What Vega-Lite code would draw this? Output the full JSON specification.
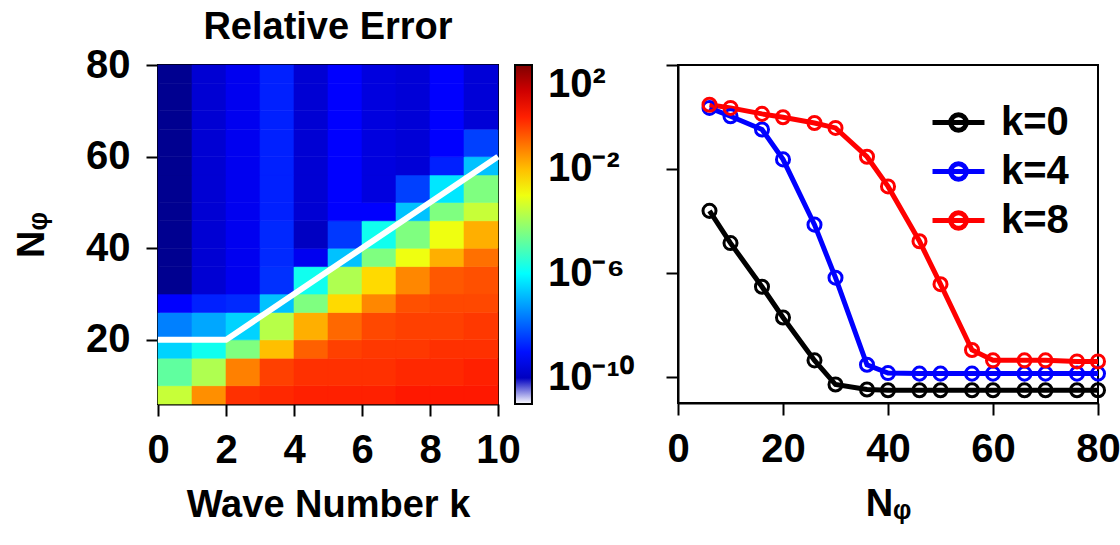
{
  "$schema": "https://vega.github.io/schema/vega-lite/v6.json",
  "background": "white",
  "padding": {"left": 12, "top": 8, "right": 5, "bottom": 0},
  "bounds": "flush",
  "spacing": 180,
  "config": {
    "font": "Liberation Sans",
    "view": {"stroke": "black", "strokeWidth": 2},
    "axis": {
      "labelFont": "Liberation Sans",
      "labelFontSize": 40, "labelFontWeight": "bold", "labelColor": "black",
      "titleFont": "Liberation Sans",
      "titleFontSize": 38, "titleFontWeight": "bold", "titleColor": "black",
      "domainColor": "black", "domainWidth": 2, "tickColor": "black", "tickWidth": 2, "tickSize": 12,
      "grid": false, "labelPadding": 14, "titlePadding": 16, "labelFlush": false, "labelOverlap": false
    },
    "legend": {
      "labelFont": "Liberation Sans",
      "labelFontSize": 40, "labelFontWeight": "bold", "labelColor": "black"
    },
    "title": {
      "font": "Liberation Sans",
      "fontSize": 38, "fontWeight": "bold", "color": "black"
    }
  },
  "resolve": {"scale": {"color": "independent"}, "legend": {"color": "independent"}},
  "datasets": {
    "heat": [
      {"k":0,"k_end":1,"N":6,"N_end":10,"log10_err":-3.5},{"k":1,"k_end":2,"N":6,"N_end":10,"log10_err":-1.4},{"k":2,"k_end":3,"N":6,"N_end":10,"log10_err":-0.2},{"k":3,"k_end":4,"N":6,"N_end":10,"log10_err":-0.1},{"k":4,"k_end":5,"N":6,"N_end":10,"log10_err":0.0},{"k":5,"k_end":6,"N":6,"N_end":10,"log10_err":0.0},{"k":6,"k_end":7,"N":6,"N_end":10,"log10_err":0.0},{"k":7,"k_end":8,"N":6,"N_end":10,"log10_err":0.1},{"k":8,"k_end":9,"N":6,"N_end":10,"log10_err":0.1},{"k":9,"k_end":10,"N":6,"N_end":10,"log10_err":0.1},
      {"k":0,"k_end":1,"N":10,"N_end":16,"log10_err":-4.8},{"k":1,"k_end":2,"N":10,"N_end":16,"log10_err":-3.8},{"k":2,"k_end":3,"N":10,"N_end":16,"log10_err":-1.2},{"k":3,"k_end":4,"N":10,"N_end":16,"log10_err":-0.4},{"k":4,"k_end":5,"N":10,"N_end":16,"log10_err":-0.2},{"k":5,"k_end":6,"N":10,"N_end":16,"log10_err":-0.2},{"k":6,"k_end":7,"N":10,"N_end":16,"log10_err":-0.2},{"k":7,"k_end":8,"N":10,"N_end":16,"log10_err":-0.1},{"k":8,"k_end":9,"N":10,"N_end":16,"log10_err":-0.1},{"k":9,"k_end":10,"N":10,"N_end":16,"log10_err":0.0},
      {"k":0,"k_end":1,"N":16,"N_end":20,"log10_err":-6.55},{"k":1,"k_end":2,"N":16,"N_end":20,"log10_err":-5.8},{"k":2,"k_end":3,"N":16,"N_end":20,"log10_err":-4.4},{"k":3,"k_end":4,"N":16,"N_end":20,"log10_err":-2.0},{"k":4,"k_end":5,"N":16,"N_end":20,"log10_err":-0.8},{"k":5,"k_end":6,"N":16,"N_end":20,"log10_err":-0.4},{"k":6,"k_end":7,"N":16,"N_end":20,"log10_err":-0.3},{"k":7,"k_end":8,"N":16,"N_end":20,"log10_err":-0.3},{"k":8,"k_end":9,"N":16,"N_end":20,"log10_err":-0.2},{"k":9,"k_end":10,"N":16,"N_end":20,"log10_err":-0.2},
      {"k":0,"k_end":1,"N":20,"N_end":26,"log10_err":-7.6},{"k":1,"k_end":2,"N":20,"N_end":26,"log10_err":-7.1},{"k":2,"k_end":3,"N":20,"N_end":26,"log10_err":-6.55},{"k":3,"k_end":4,"N":20,"N_end":26,"log10_err":-3.7},{"k":4,"k_end":5,"N":20,"N_end":26,"log10_err":-1.8},{"k":5,"k_end":6,"N":20,"N_end":26,"log10_err":-0.9},{"k":6,"k_end":7,"N":20,"N_end":26,"log10_err":-0.5},{"k":7,"k_end":8,"N":20,"N_end":26,"log10_err":-0.4},{"k":8,"k_end":9,"N":20,"N_end":26,"log10_err":-0.4},{"k":9,"k_end":10,"N":20,"N_end":26,"log10_err":-0.3},
      {"k":0,"k_end":1,"N":26,"N_end":30,"log10_err":-9.2},{"k":1,"k_end":2,"N":26,"N_end":30,"log10_err":-8.8},{"k":2,"k_end":3,"N":26,"N_end":30,"log10_err":-8.69},{"k":3,"k_end":4,"N":26,"N_end":30,"log10_err":-6.77},{"k":4,"k_end":5,"N":26,"N_end":30,"log10_err":-4.4},{"k":5,"k_end":6,"N":26,"N_end":30,"log10_err":-2.33},{"k":6,"k_end":7,"N":26,"N_end":30,"log10_err":-1.3},{"k":7,"k_end":8,"N":26,"N_end":30,"log10_err":-0.6},{"k":8,"k_end":9,"N":26,"N_end":30,"log10_err":-0.5},{"k":9,"k_end":10,"N":26,"N_end":30,"log10_err":-0.5},
      {"k":0,"k_end":1,"N":30,"N_end":36,"log10_err":-10.6},{"k":1,"k_end":2,"N":30,"N_end":36,"log10_err":-9.75},{"k":2,"k_end":3,"N":30,"N_end":36,"log10_err":-9.39},{"k":3,"k_end":4,"N":30,"N_end":36,"log10_err":-8.6},{"k":4,"k_end":5,"N":30,"N_end":36,"log10_err":-5.8},{"k":5,"k_end":6,"N":30,"N_end":36,"log10_err":-3.8},{"k":6,"k_end":7,"N":30,"N_end":36,"log10_err":-2.33},{"k":7,"k_end":8,"N":30,"N_end":36,"log10_err":-1.3},{"k":8,"k_end":9,"N":30,"N_end":36,"log10_err":-0.7},{"k":9,"k_end":10,"N":30,"N_end":36,"log10_err":-0.6},
      {"k":0,"k_end":1,"N":36,"N_end":40,"log10_err":-10.6},{"k":1,"k_end":2,"N":36,"N_end":40,"log10_err":-9.75},{"k":2,"k_end":3,"N":36,"N_end":40,"log10_err":-9.39},{"k":3,"k_end":4,"N":36,"N_end":40,"log10_err":-8.69},{"k":4,"k_end":5,"N":36,"N_end":40,"log10_err":-9.39},{"k":5,"k_end":6,"N":36,"N_end":40,"log10_err":-6.77},{"k":6,"k_end":7,"N":36,"N_end":40,"log10_err":-4.4},{"k":7,"k_end":8,"N":36,"N_end":40,"log10_err":-3.0},{"k":8,"k_end":9,"N":36,"N_end":40,"log10_err":-1.8},{"k":9,"k_end":10,"N":36,"N_end":40,"log10_err":-1.0},
      {"k":0,"k_end":1,"N":40,"N_end":46,"log10_err":-10.6},{"k":1,"k_end":2,"N":40,"N_end":46,"log10_err":-9.75},{"k":2,"k_end":3,"N":40,"N_end":46,"log10_err":-9.39},{"k":3,"k_end":4,"N":40,"N_end":46,"log10_err":-8.7},{"k":4,"k_end":5,"N":40,"N_end":46,"log10_err":-9.97},{"k":5,"k_end":6,"N":40,"N_end":46,"log10_err":-8.5},{"k":6,"k_end":7,"N":40,"N_end":46,"log10_err":-5.8},{"k":7,"k_end":8,"N":40,"N_end":46,"log10_err":-4.4},{"k":8,"k_end":9,"N":40,"N_end":46,"log10_err":-3.0},{"k":9,"k_end":10,"N":40,"N_end":46,"log10_err":-1.8},
      {"k":0,"k_end":1,"N":46,"N_end":50,"log10_err":-10.6},{"k":1,"k_end":2,"N":46,"N_end":50,"log10_err":-9.75},{"k":2,"k_end":3,"N":46,"N_end":50,"log10_err":-9.39},{"k":3,"k_end":4,"N":46,"N_end":50,"log10_err":-8.8},{"k":4,"k_end":5,"N":46,"N_end":50,"log10_err":-9.75},{"k":5,"k_end":6,"N":46,"N_end":50,"log10_err":-9.2},{"k":6,"k_end":7,"N":46,"N_end":50,"log10_err":-9.2},{"k":7,"k_end":8,"N":46,"N_end":50,"log10_err":-6.77},{"k":8,"k_end":9,"N":46,"N_end":50,"log10_err":-4.4},{"k":9,"k_end":10,"N":46,"N_end":50,"log10_err":-3.5},
      {"k":0,"k_end":1,"N":50,"N_end":56,"log10_err":-10.6},{"k":1,"k_end":2,"N":50,"N_end":56,"log10_err":-9.75},{"k":2,"k_end":3,"N":50,"N_end":56,"log10_err":-9.39},{"k":3,"k_end":4,"N":50,"N_end":56,"log10_err":-8.8},{"k":4,"k_end":5,"N":50,"N_end":56,"log10_err":-9.75},{"k":5,"k_end":6,"N":50,"N_end":56,"log10_err":-9.2},{"k":6,"k_end":7,"N":50,"N_end":56,"log10_err":-9.6},{"k":7,"k_end":8,"N":50,"N_end":56,"log10_err":-8.4},{"k":8,"k_end":9,"N":50,"N_end":56,"log10_err":-6.3},{"k":9,"k_end":10,"N":50,"N_end":56,"log10_err":-4.4},
      {"k":0,"k_end":1,"N":56,"N_end":60,"log10_err":-10.6},{"k":1,"k_end":2,"N":56,"N_end":60,"log10_err":-9.75},{"k":2,"k_end":3,"N":56,"N_end":60,"log10_err":-9.39},{"k":3,"k_end":4,"N":56,"N_end":60,"log10_err":-8.8},{"k":4,"k_end":5,"N":56,"N_end":60,"log10_err":-9.75},{"k":5,"k_end":6,"N":56,"N_end":60,"log10_err":-9.2},{"k":6,"k_end":7,"N":56,"N_end":60,"log10_err":-9.6},{"k":7,"k_end":8,"N":56,"N_end":60,"log10_err":-9.7},{"k":8,"k_end":9,"N":56,"N_end":60,"log10_err":-8.8},{"k":9,"k_end":10,"N":56,"N_end":60,"log10_err":-6.77},
      {"k":0,"k_end":1,"N":60,"N_end":66,"log10_err":-10.6},{"k":1,"k_end":2,"N":60,"N_end":66,"log10_err":-9.75},{"k":2,"k_end":3,"N":60,"N_end":66,"log10_err":-9.39},{"k":3,"k_end":4,"N":60,"N_end":66,"log10_err":-8.8},{"k":4,"k_end":5,"N":60,"N_end":66,"log10_err":-9.75},{"k":5,"k_end":6,"N":60,"N_end":66,"log10_err":-9.2},{"k":6,"k_end":7,"N":60,"N_end":66,"log10_err":-9.6},{"k":7,"k_end":8,"N":60,"N_end":66,"log10_err":-9.7},{"k":8,"k_end":9,"N":60,"N_end":66,"log10_err":-9.2},{"k":9,"k_end":10,"N":60,"N_end":66,"log10_err":-8.4},
      {"k":0,"k_end":1,"N":66,"N_end":70,"log10_err":-10.6},{"k":1,"k_end":2,"N":66,"N_end":70,"log10_err":-9.75},{"k":2,"k_end":3,"N":66,"N_end":70,"log10_err":-9.39},{"k":3,"k_end":4,"N":66,"N_end":70,"log10_err":-8.8},{"k":4,"k_end":5,"N":66,"N_end":70,"log10_err":-9.75},{"k":5,"k_end":6,"N":66,"N_end":70,"log10_err":-9.2},{"k":6,"k_end":7,"N":66,"N_end":70,"log10_err":-9.6},{"k":7,"k_end":8,"N":66,"N_end":70,"log10_err":-9.7},{"k":8,"k_end":9,"N":66,"N_end":70,"log10_err":-9.2},{"k":9,"k_end":10,"N":66,"N_end":70,"log10_err":-9.7},
      {"k":0,"k_end":1,"N":70,"N_end":76,"log10_err":-10.6},{"k":1,"k_end":2,"N":70,"N_end":76,"log10_err":-9.75},{"k":2,"k_end":3,"N":70,"N_end":76,"log10_err":-9.39},{"k":3,"k_end":4,"N":70,"N_end":76,"log10_err":-8.8},{"k":4,"k_end":5,"N":70,"N_end":76,"log10_err":-9.75},{"k":5,"k_end":6,"N":70,"N_end":76,"log10_err":-9.2},{"k":6,"k_end":7,"N":70,"N_end":76,"log10_err":-9.6},{"k":7,"k_end":8,"N":70,"N_end":76,"log10_err":-9.7},{"k":8,"k_end":9,"N":70,"N_end":76,"log10_err":-9.2},{"k":9,"k_end":10,"N":70,"N_end":76,"log10_err":-9.7},
      {"k":0,"k_end":1,"N":76,"N_end":80,"log10_err":-10.6},{"k":1,"k_end":2,"N":76,"N_end":80,"log10_err":-9.75},{"k":2,"k_end":3,"N":76,"N_end":80,"log10_err":-9.39},{"k":3,"k_end":4,"N":76,"N_end":80,"log10_err":-8.8},{"k":4,"k_end":5,"N":76,"N_end":80,"log10_err":-9.75},{"k":5,"k_end":6,"N":76,"N_end":80,"log10_err":-9.2},{"k":6,"k_end":7,"N":76,"N_end":80,"log10_err":-9.6},{"k":7,"k_end":8,"N":76,"N_end":80,"log10_err":-9.7},{"k":8,"k_end":9,"N":76,"N_end":80,"log10_err":-9.2},{"k":9,"k_end":10,"N":76,"N_end":80,"log10_err":-9.7}
    ],
    "boundary": [
      {"k": 0, "N": 20}, {"k": 2, "N": 20}, {"k": 10, "N": 60}
    ],
    "lines": [
      {"series":"k=0","N":6,"log10_err":-3.61},{"series":"k=0","N":10,"log10_err":-4.85},{"series":"k=0","N":16,"log10_err":-6.53},{"series":"k=0","N":20,"log10_err":-7.71},{"series":"k=0","N":26,"log10_err":-9.36},{"series":"k=0","N":30,"log10_err":-10.29},{"series":"k=0","N":36,"log10_err":-10.48},{"series":"k=0","N":40,"log10_err":-10.51},{"series":"k=0","N":46,"log10_err":-10.51},{"series":"k=0","N":50,"log10_err":-10.51},{"series":"k=0","N":56,"log10_err":-10.51},{"series":"k=0","N":60,"log10_err":-10.51},{"series":"k=0","N":66,"log10_err":-10.51},{"series":"k=0","N":70,"log10_err":-10.51},{"series":"k=0","N":76,"log10_err":-10.51},{"series":"k=0","N":80,"log10_err":-10.51},
      {"series":"k=4","N":6,"log10_err":0.35},{"series":"k=4","N":10,"log10_err":0.03},{"series":"k=4","N":16,"log10_err":-0.48},{"series":"k=4","N":20,"log10_err":-1.63},{"series":"k=4","N":26,"log10_err":-4.14},{"series":"k=4","N":30,"log10_err":-6.18},{"series":"k=4","N":36,"log10_err":-9.53},{"series":"k=4","N":40,"log10_err":-9.85},{"series":"k=4","N":46,"log10_err":-9.87},{"series":"k=4","N":50,"log10_err":-9.87},{"series":"k=4","N":56,"log10_err":-9.87},{"series":"k=4","N":60,"log10_err":-9.87},{"series":"k=4","N":66,"log10_err":-9.87},{"series":"k=4","N":70,"log10_err":-9.87},{"series":"k=4","N":76,"log10_err":-9.87},{"series":"k=4","N":80,"log10_err":-9.87},
      {"series":"k=8","N":6,"log10_err":0.47},{"series":"k=8","N":10,"log10_err":0.35},{"series":"k=8","N":16,"log10_err":0.12},{"series":"k=8","N":20,"log10_err":-0.01},{"series":"k=8","N":26,"log10_err":-0.23},{"series":"k=8","N":30,"log10_err":-0.42},{"series":"k=8","N":36,"log10_err":-1.53},{"series":"k=8","N":40,"log10_err":-2.67},{"series":"k=8","N":46,"log10_err":-4.78},{"series":"k=8","N":50,"log10_err":-6.43},{"series":"k=8","N":56,"log10_err":-8.96},{"series":"k=8","N":60,"log10_err":-9.36},{"series":"k=8","N":66,"log10_err":-9.36},{"series":"k=8","N":70,"log10_err":-9.36},{"series":"k=8","N":76,"log10_err":-9.4},{"series":"k=8","N":80,"log10_err":-9.4}
    ]
  },
  "hconcat": [
    {
      "width": 340,
      "height": 339,
      "title": {"text": "Relative Error", "offset": -2, "anchor": "middle"},
      "layer": [
        {
          "data": {"name": "heat"},
          "mark": {"type": "rect", "strokeWidth": 0.6},
          "encoding": {
            "x": {"field": "k", "type": "quantitative", "scale": {"domain": [0, 10], "nice": false, "zero": false},
                  "axis": {"values": [0, 2, 4, 6, 8, 10], "title": "Wave Number k"}},
            "x2": {"field": "k_end"},
            "y": {"field": "N", "type": "quantitative", "scale": {"domain": [6, 80], "nice": false, "zero": false},
                  "axis": {"values": [20, 40, 60, 80], "title": "Nᵩ", "labelPadding": 16, "titlePadding": 34}},
            "y2": {"field": "N_end"},
            "color": {
              "field": "log10_err", "type": "quantitative",
              "scale": {
                "type": "linear",
                "domain": [-11, -10.81, -10.8, -9.2, -6.0, -2.8, 0.4, 2.0],
                "range": ["#ffffff", "#ffffff", "#000080", "#0000ff", "#00ffff", "#ffff00", "#ff0000", "#800000"],
                "interpolate": "rgb"
              },
              "legend": {
                "orient": "right", "offset": 17, "title": null, "direction": "vertical",
                "gradientLength": 339, "gradientThickness": 17,
                "gradientStrokeColor": "black", "gradientStrokeWidth": 2,
                "values": [-10, -6, -2, 2],
                "labelExpr": "datum.value == 2 ? '10²' : datum.value == -2 ? '10⁻²' : datum.value == -6 ? '10⁻⁶' : '10⁻¹⁰'",
                "labelOverlap": false, "labelOffset": 16, "labelBaseline": "middle"
              }
            },
            "stroke": {
              "field": "log10_err", "type": "quantitative",
              "scale": {
                "type": "linear",
                "domain": [-11, -10.81, -10.8, -9.2, -6.0, -2.8, 0.4, 2.0],
                "range": ["#ffffff", "#ffffff", "#000080", "#0000ff", "#00ffff", "#ffff00", "#ff0000", "#800000"],
                "interpolate": "rgb"
              },
              "legend": null
            }
          }
        },
        {
          "data": {"name": "boundary"},
          "mark": {"type": "line", "color": "white", "strokeWidth": 6, "strokeCap": "butt"},
          "encoding": {
            "x": {"field": "k", "type": "quantitative", "axis": {"values": [0, 2, 4, 6, 8, 10], "title": "Wave Number k"}},
            "y": {"field": "N", "type": "quantitative", "axis": {"values": [20, 40, 60, 80], "title": "Nᵩ", "labelPadding": 16, "titlePadding": 34}}
          }
        }
      ]
    },
    {
      "width": 420,
      "height": 338,
      "data": {"name": "lines"},
      "encoding": {
        "x": {"field": "N", "type": "quantitative", "scale": {"domain": [0, 80], "nice": false, "zero": false},
              "axis": {"values": [0, 20, 40, 60, 80], "title": "Nᵩ"}},
        "y": {"field": "log10_err", "type": "quantitative", "scale": {"domain": [-11, 2], "nice": false, "zero": false},
              "axis": {"values": [-10, -6, -2, 2], "labels": false, "title": null}},
        "color": {
          "field": "series", "type": "nominal",
          "scale": {"domain": ["k=0", "k=4", "k=8"], "range": ["#000000", "#0000ff", "#ff0000"]},
          "legend": {
            "orient": "top-right", "offset": 29, "title": null,
            "symbolType": "M-1,0L1,0M0.3,0A0.3,0.3,0,1,1,-0.3,0A0.3,0.3,0,1,1,0.3,0",
            "symbolSize": 2700, "symbolStrokeWidth": 5, "symbolFillColor": "transparent",
            "labelOffset": 14, "rowPadding": 0
          }
        }
      },
      "layer": [
        {"mark": {"type": "line", "strokeWidth": 5, "clip": false}},
        {"mark": {"type": "point", "filled": false, "size": 170, "strokeWidth": 3, "opacity": 1, "clip": false}}
      ]
    }
  ]
}
